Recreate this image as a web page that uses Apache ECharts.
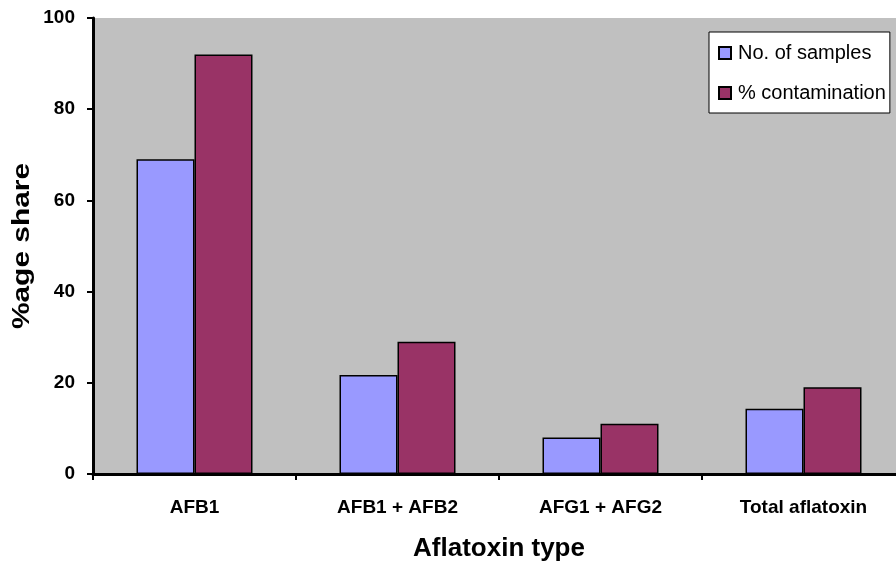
<!DOCTYPE html>
<html>
<head>
<meta charset="utf-8">
<script src="https://cdn.jsdelivr.net/npm/echarts@6/dist/echarts.min.js"></script>
<style>
  html, body { margin: 0; padding: 0; background: #ffffff; overflow: hidden; width: 896px; height: 571px; }
  /* the plot runs slightly past the right edge of the page, so the canvas is a bit wider */
  #chart { width: 906px; height: 571px; }
</style>
</head>
<body>
<div id="chart"></div>
<script>
// Aflatoxin types on the category axis
const categories = ['AFB1', 'AFB1 + AFB2', 'AFG1 + AFG2', 'Total aflatoxin'];
// Share of samples per aflatoxin type (%)
const samples = [69, 21.7, 8, 14.3];
// Contamination per aflatoxin type (%)
const contamination = [92, 29, 11, 19];
// Value axis ticks
const yTicks = [0, 20, 40, 60, 80, 100];
const yTitle = '%age share';
const xTitle = 'Aflatoxin type';

const FONT = '"Liberation Sans", Arial, sans-serif';

const chart = echarts.init(document.getElementById('chart'), null, { renderer: 'canvas' });

chart.setOption({
  backgroundColor: '#ffffff',
  animation: false,
  grid: {
    left: 93,
    top: 18,
    right: 1,
    bottom: 97,
    show: true,
    backgroundColor: '#c0c0c0',
    borderWidth: 0
  },
  legend: {
    orient: 'vertical',
    left: 709,
    top: 32,
    padding: [11, 4, 10, 9],
    itemGap: 20,
    itemWidth: 12,
    itemHeight: 12,
    backgroundColor: '#ffffff',
    borderColor: '#000000',
    borderWidth: 1,
    textStyle: { fontFamily: FONT, fontSize: 20, color: '#000000', padding: [0, 0, 0, 2] },
    data: [
      { name: 'No. of samples', icon: 'rect' },
      { name: '% contamination', icon: 'rect' }
    ]
  },
  // rotated value-axis title, stretched along its length like the rest of the lettering
  graphic: [{
    type: 'text',
    x: 23,
    y: 246,
    rotation: Math.PI / 2,
    scaleX: 1.3,
    style: {
      text: yTitle,
      fontFamily: FONT,
      fontSize: 23,
      fontWeight: 'bold',
      fill: '#000000',
      align: 'center',
      verticalAlign: 'middle'
    }
  }],
  xAxis: {
    type: 'category',
    data: categories,
    name: xTitle,
    nameLocation: 'middle',
    nameGap: 62,
    nameTextStyle: { fontFamily: FONT, fontSize: 26, fontWeight: 'bold', color: '#000000' },
    axisLine: { lineStyle: { color: '#000000', width: 3 } },
    axisTick: { show: true, length: 6, lineStyle: { color: '#000000', width: 2 } },
    axisLabel: { margin: 24, fontFamily: FONT, fontSize: 19, fontWeight: 'bold', color: '#000000' },
    splitLine: { show: false }
  },
  yAxis: {
    type: 'value',
    min: yTicks[0],
    max: yTicks[yTicks.length - 1],
    interval: yTicks[1] - yTicks[0],
    axisLine: { show: true, lineStyle: { color: '#000000', width: 3 } },
    axisTick: { show: true, length: 6, lineStyle: { color: '#000000', width: 2 } },
    axisLabel: { margin: 18, fontFamily: FONT, fontSize: 19, fontWeight: 'bold', color: '#000000' },
    splitLine: { show: false }
  },
  series: [
    {
      name: 'No. of samples',
      type: 'bar',
      data: samples,
      barWidth: 58,
      barGap: '0%',
      itemStyle: { color: '#9999ff', borderColor: '#000000', borderWidth: 1.5 }
    },
    {
      name: '% contamination',
      type: 'bar',
      data: contamination,
      barWidth: 58,
      barGap: '0%',
      itemStyle: { color: '#993366', borderColor: '#000000', borderWidth: 1.5 }
    }
  ]
});
</script>
</body>
</html>
